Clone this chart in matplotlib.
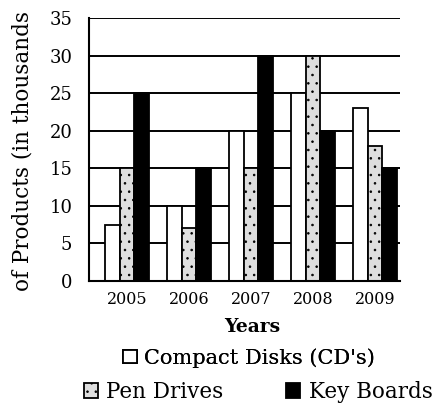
import numpy as np
import matplotlib
matplotlib.use("Agg")
import matplotlib.pyplot as plt

years = ["2005", "2006", "2007", "2008", "2009"]
cd_vals = [7.5, 10, 20, 25, 23]
pen_vals = [15, 7, 15, 30, 18]
kb_vals = [25, 15, 30, 20, 15]
series_names = ["Compact Disks (CD's)", "Pen Drives", "Key Boards"]

plt.rcParams['font.family'] = ['DejaVu Serif']
plt.rcParams['hatch.linewidth'] = 0.6

fig = plt.figure(figsize=(4.38, 4.03), dpi=100)
ax = fig.add_axes([0.2032, 0.3027, 0.71, 0.6526])

x = np.arange(len(years))
w = 0.234
b_cd = ax.bar(x - w, cd_vals, w, color='white', edgecolor='black', lw=1.3, zorder=3)
b_pd = ax.bar(x, pen_vals, w, color='#dedede', edgecolor='black', lw=1.3,
              hatch='..', zorder=3)
b_kb = ax.bar(x + w, kb_vals, w, color='black', edgecolor='black', lw=1.3, zorder=3)

ax.set_xlim(-0.613, 4.40)
ax.set_ylim(0, 35)
ax.set_yticks(np.arange(0, 36, 5))
ax.set_xticks(x)
ax.set_xticklabels(years, fontsize=11.5)
ax.tick_params(axis='y', length=0, pad=12, labelsize=13)
ax.tick_params(axis='x', length=0, pad=7)
ax.yaxis.grid(True, color='black', lw=1.4)
ax.set_axisbelow(True)
for s in ['top', 'right']:
    ax.spines[s].set_visible(False)
for s in ['left', 'bottom']:
    ax.spines[s].set_linewidth(1.5)
    ax.spines[s].set_zorder(4)

fig.text(252 / 438, 1 - 327 / 403, "Years", ha='center', va='center',
         fontsize=13.5, fontweight='bold')
fig.text(23 / 438, 1 - 291 / 403, "of Products (in thousands", rotation=90,
         ha='center', va='bottom', fontsize=15.5)

leg1 = fig.legend([b_cd], [series_names[0]], loc='center',
                  bbox_to_anchor=(249 / 438, 1 - 358 / 403), frameon=False,
                  fontsize=15, handlelength=0.65, handleheight=0.65,
                  handletextpad=0.35, borderpad=0)
fig.add_artist(leg1)
fig.legend([b_pd, b_kb], series_names[1:], loc='center', ncol=2,
           bbox_to_anchor=(258 / 438, 1 - 392 / 403), frameon=False,
           fontsize=15.5, handlelength=0.65, handleheight=0.65,
           handletextpad=0.4, columnspacing=2.9, borderpad=0)

fig.savefig("out.png", dpi=100)
